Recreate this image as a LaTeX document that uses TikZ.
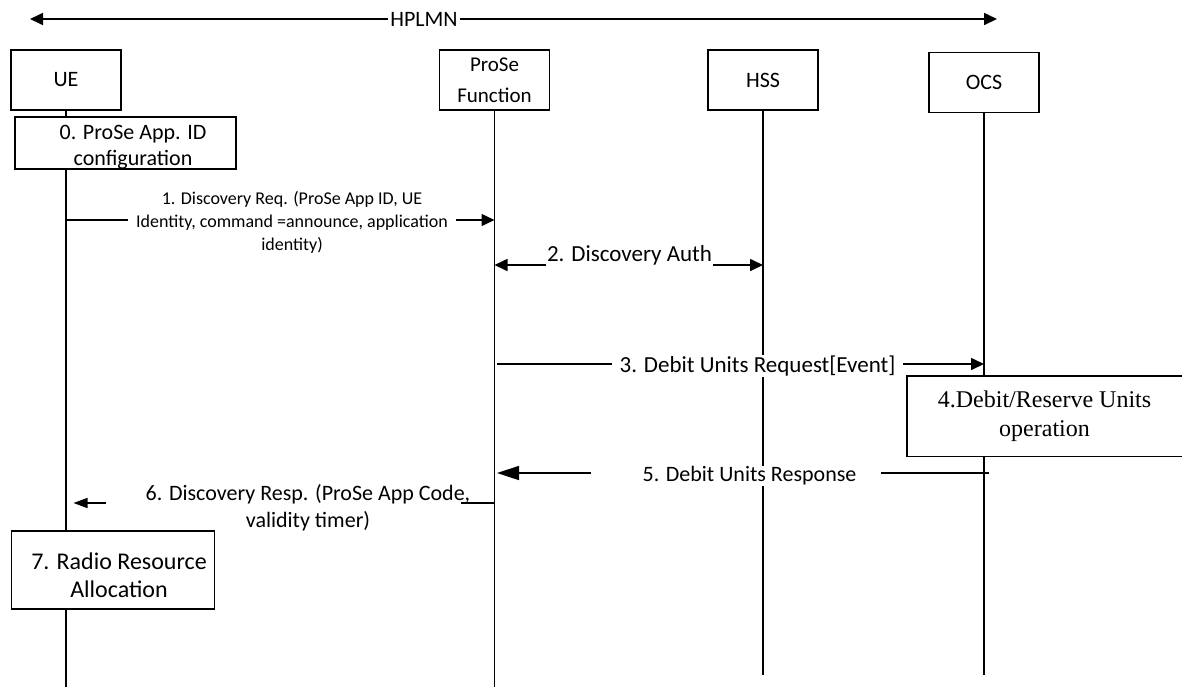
\documentclass[tikz,border=0pt]{standalone}
\usepackage{fontspec}
\setmainfont{Carlito}
\newfontfamily\timesfont{Liberation Serif}
\usetikzlibrary{arrows.meta}
\tikzset{
	>={Triangle[length=13pt,width=12pt]},
	every node/.style={font=\fontsize{22}{27}\selectfont},
	actor/.style={draw, line width=1.4pt, minimum width=110pt, minimum height=60pt, align=center},
	stepbox/.style={draw, line width=1.4pt, fill=white},
	msg/.style={fill=white, align=center, inner sep=1pt},
	life/.style={line width=1.3pt},
	arr/.style={line width=1.6pt, ->},
}

\begin{document}
\begin{tikzpicture}[x=1pt,y=-1pt]
		%%%%% START %%%%%
		\useasboundingbox (0,0) rectangle (1182,689);
		
		\node[inner sep=2pt] (hplmn) at (424,19) {HPLMN};
		\coordinate (hl) at (30,19);
		\coordinate (hr) at (997,19);
		\draw[arr] (hplmn) -- (hl);
		\draw[arr] (hplmn) -- (hr);
		
		\node[actor] (ue) at (66,80) {UE};
		\node[actor, font=\fontsize{21}{31}\selectfont] (pf) at (494.5,80) {ProSe\\Function};
		\node[actor] (hss) at (763,80) {HSS};
		\node[actor] (ocs) at (984,82.5) {OCS};
		
		\coordinate (ue-end) at (66,687);
		\coordinate (pf-end) at (494.5,687);
		\coordinate (hss-end) at (763,675);
		\coordinate (ocs-end) at (984,675);
		\draw[life] (ue) -- (ue-end);
		\draw[life] (pf) -- (pf-end);
		\draw[life] (hss) -- (hss-end);
		\draw[life] (ocs) -- (ocs-end);
		
		\node[stepbox, minimum width=221pt, minimum height=52pt] (s0) at (125.5,143) {};
		\node[align=center, font=\fontsize{22}{26}\selectfont] (s0-text) at (133,147) {0. ProSe App. ID\\configuration};
		
		% 1
		\coordinate (ue1) at (66,220);
		\coordinate (pf1) at (494.5,220);
		\draw[arr] (ue1) -- (pf1);
		\node[msg, inner xsep=8pt, font=\fontsize{18}{23}\selectfont] (m1) at (292,222) {1. Discovery Req. (ProSe App ID, UE\\Identity, command =announce, application\\identity)};
		
		% 2
		\coordinate (pf2) at (494.5,265);
		\coordinate (hss2) at (763,265);
		\draw[arr, <->] (pf2) -- (hss2);
		\node[msg, font=\fontsize{23}{27}\selectfont] (m2) at (629.5,255) {2. Discovery Auth};
		
		% 3
		\coordinate (pf3) at (497,364);
		\coordinate (ocs3) at (984,364);
		\draw[arr] (pf3) -- (ocs3);
		\node[msg, inner xsep=8pt, font=\fontsize{23}{27}\selectfont] (m3) at (757.5,366) {3. Debit Units Request[Event]};
		
		% 4
		\node[fill=white, minimum width=275pt, minimum height=80pt, align=center, font=\timesfont\fontsize{24}{29}\selectfont] (s4) at (1044.5,416) {4.Debit/Reserve Units\\operation};
		\draw[line width=1.4pt] (s4.north east) -- (s4.north west) -- (s4.south west) -- (s4.south east);
		
		% 5
		\coordinate (ocs5) at (989,473);
		\coordinate (pf5) at (497,473);
		\coordinate (m5-r) at (881,473);
		\coordinate (m5-l) at (591,473);
		\node[msg, font=\fontsize{22}{27}\selectfont] (m5) at (749.5,476) {5. Debit Units Response};
		\draw[line width=1.6pt] (ocs5) -- (m5-r);
		\draw[line width=1.6pt, -{Triangle[length=22pt,width=14pt]}] (m5-l) -- (pf5);
		
		% 6
		\coordinate (pf6) at (494.5,503);
		\coordinate (ue6) at (73.5,503);
		\coordinate (m6-r) at (461,503);
		\coordinate (m6-l) at (106,503);
		\node[align=center, font=\fontsize{22}{27}\selectfont] (m6) at (308,508) {6. Discovery Resp. (ProSe App Code,\\validity timer)};
		\draw[life] (pf6) -- (m6-r);
		\draw[line width=1.6pt, -{Triangle[length=14pt,width=10pt]}] (m6-l) -- (ue6);
		
		\node[stepbox, minimum width=203pt, minimum height=78pt] (s7) at (113,570) {};
		\node[align=center, font=\fontsize{24}{28}\selectfont] (s7-text) at (119,575) {7. Radio Resource\\Allocation};
		%%%%% END %%%%%
	\end{tikzpicture}
\end{document}
